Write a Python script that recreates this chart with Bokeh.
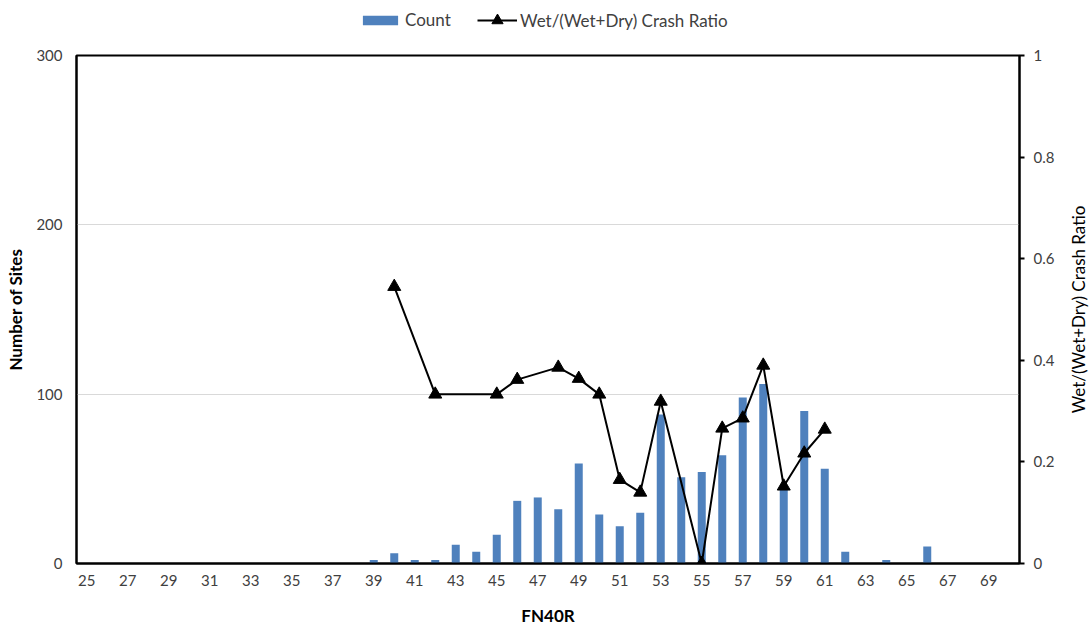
import math
from bokeh.plotting import figure
from bokeh.layouts import column, row
from bokeh.models import (Range1d, LinearAxis, FixedTicker, Legend, LegendItem,
                          CustomJSTickFormatter, ColumnDataSource)
from bokeh.core.properties import value
from bokeh.embed import file_html
from bokeh.resources import INLINE

# ---- data ----
fn40r = list(range(25, 71))
counts = [0]*14 + [2, 6, 2, 2, 11, 7, 17, 37, 39, 32, 59, 29, 22, 30, 88, 51, 54,
                   64, 98, 106, 45, 90, 56, 7, 0, 2, 0, 10, 0, 0, 0, 0]
ratio_x = [40, 42, 45, 46, 48, 49, 50, 51, 52, 53, 55, 56, 57, 58, 59, 60, 61]
ratio_y = [0.545, 0.333, 0.333, 0.362, 0.386, 0.364, 0.333, 0.165, 0.140, 0.319,
           0.0, 0.266, 0.286, 0.390, 0.152, 0.217, 0.264]
x_ticks = list(range(25, 70, 2))
left_ticks = [0, 100, 200, 300]
right_ticks = [0, 0.2, 0.4, 0.6, 0.8, 1]
series_names = ["Count", "Wet/(Wet+Dry) Crash Ratio"]
right_title = "Wet/(Wet+Dry) Crash Ratio"

FONT = "Lato"
TXT = "#404040"
BAR = "#4F81BD"
LEG_H = 43
MAIN_H = 630 - LEG_H

# ---------------- main chart ----------------
p = figure(width=1067, height=MAIN_H,
           x_range=Range1d(24.5, 70.5), y_range=Range1d(0, 300),
           output_backend="svg", toolbar_location=None,
           min_border_left=76, min_border_right=48, min_border_top=12,
           min_border_bottom=67)
p.extra_y_ranges = {"ratio": Range1d(0, 1)}

p.outline_line_color = "black"
p.outline_line_width = 2
p.xgrid.visible = False
p.ygrid.ticker = FixedTicker(ticks=left_ticks)
p.ygrid.grid_line_color = "#D9D9D9"

p.vbar(x=fn40r, top=counts, width=0.39, fill_color=BAR, line_color=None)
src = ColumnDataSource(dict(x=ratio_x, y=ratio_y))
p.line("x", "y", source=src, y_range_name="ratio", line_color="black", line_width=2)
p.scatter("x", "y", source=src, y_range_name="ratio", marker="triangle",
          size=13, fill_color="black", line_color="black")

xa = p.xaxis[0]
xa.ticker = FixedTicker(ticks=x_ticks)
xa.axis_label = "FN40R"
xa.axis_label_text_font = FONT
xa.axis_label_text_font_style = "bold"
xa.axis_label_text_font_size = "17px"
xa.axis_label_text_color = "#000000"
xa.axis_label_standoff = 16
xa.major_label_text_font = FONT
xa.major_label_text_font_size = "15px"
xa.major_label_text_color = TXT
xa.major_label_standoff = 5
xa.major_tick_line_color = None
xa.minor_tick_line_color = None
xa.axis_line_color = "black"
xa.axis_line_width = 2

ya = p.yaxis[0]
ya.ticker = FixedTicker(ticks=left_ticks)
ya.axis_label = "Number of Sites"
ya.axis_label_text_font = FONT
ya.axis_label_text_font_style = "bold"
ya.axis_label_text_font_size = "17px"
ya.axis_label_text_color = "#000000"
ya.axis_label_standoff = 7
ya.major_label_text_font = FONT
ya.major_label_text_font_size = "15px"
ya.major_label_text_color = TXT
ya.major_label_standoff = 8
ya.major_tick_line_color = None
ya.minor_tick_line_color = None
ya.axis_line_color = "black"
ya.axis_line_width = 2

ra = LinearAxis(y_range_name="ratio", ticker=FixedTicker(ticks=right_ticks),
                formatter=CustomJSTickFormatter(code="return String(Math.round(tick*10)/10);"))
ra.major_label_text_font = FONT
ra.major_label_text_font_size = "15px"
ra.major_label_text_color = TXT
ra.major_label_standoff = 9
ra.major_tick_out = 5
ra.major_tick_in = 0
ra.major_tick_line_color = "black"
ra.major_tick_line_width = 2
ra.minor_tick_line_color = None
ra.axis_line_color = "black"
ra.axis_line_width = 2
p.add_layout(ra, "right")

# ---------------- right axis title (reads bottom-to-top) ----------------
t = figure(width=22, height=MAIN_H, x_range=Range1d(0, 1), y_range=Range1d(0, 1),
           output_backend="svg", toolbar_location=None,
           x_axis_location=None, y_axis_location=None,
           min_border_left=0, min_border_right=0, min_border_top=12, min_border_bottom=67)
t.outline_line_color = None
t.grid.visible = False
t.text(x=[0.5], y=[0.5], text=[right_title], angle=math.pi/2,
       text_align="center", text_baseline="middle",
       text_font=value(FONT), text_font_size="17px", text_color="#000000")

# ---------------- legend strip ----------------
# the same series are drawn here but fall outside this strip's ranges,
# so only their legend swatches are visible
lg = figure(width=1089, height=LEG_H, x_range=Range1d(0, 1), y_range=Range1d(0, 1),
            output_backend="svg", toolbar_location=None,
            x_axis_location=None, y_axis_location=None,
            min_border_left=0, min_border_right=0, min_border_top=0, min_border_bottom=0)
lg.outline_line_color = None
lg.grid.visible = False
r_bar = lg.vbar(x=fn40r, top=counts, width=0.39, fill_color=BAR, line_color=None)
r_line = lg.line(x=ratio_x, y=ratio_y, line_color="black", line_width=2)
r_mk = lg.scatter(x=ratio_x, y=ratio_y, marker="triangle", size=11,
                  fill_color="black", line_color="black")

common = dict(orientation="horizontal", border_line_color=None, background_fill_alpha=0,
              padding=0, margin=0, label_standoff=3, label_height=20,
              label_text_font=FONT, label_text_font_size="17px", label_text_color=TXT)
leg1 = Legend(items=[LegendItem(label=series_names[0], renderers=[r_bar])],
              location=(358, 13), glyph_width=44, glyph_height=12, **common)
leg2 = Legend(items=[LegendItem(label=series_names[1], renderers=[r_line, r_mk])],
              location=(477, 9), glyph_width=40, glyph_height=28, **common)
lg.add_layout(leg1, "center")
lg.add_layout(leg2, "center")

layout = column(lg, row(p, t, spacing=0), spacing=0)
open("out.html", "w").write(file_html(layout, INLINE))
